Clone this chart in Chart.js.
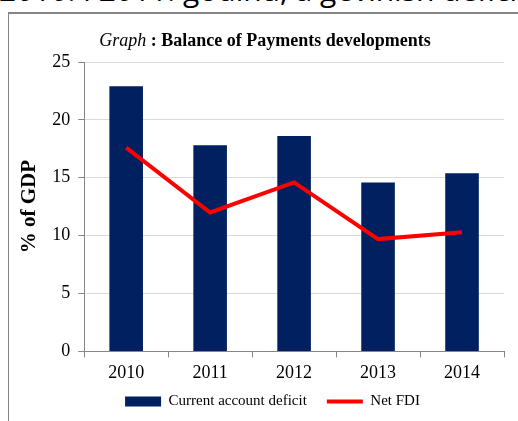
<!DOCTYPE html>
<html>
<head>
<meta charset="utf-8">
<script src="https://cdn.jsdelivr.net/npm/chart.js@4"></script>
<style>
  html, body { margin: 0; padding: 0; background: #fff; }
  body { width: 518px; height: 421px; position: relative; overflow: hidden; }
  #topText {
    position: absolute; left: -1px; top: -31px; white-space: nowrap;
    font-family: "Open Sans", sans-serif; font-size: 30px; color: #000;
  }
  #frame {
    position: absolute; left: 8px; top: 12px; width: 530px; height: 430px;
    border-top: 2px solid #868686; border-left: 1px solid #868686;
  }
  #wrap {
    position: absolute; left: 9px; top: 14px; width: 509px; height: 393px; overflow: hidden;
  }
  #wrap canvas { position: absolute; left: 0; top: -1px; }
</style>
</head>
<body>
<div id="topText">2010. i 2011. godinu, a gevinish deficit</div>
<div id="frame"></div>
<div id="wrap"><canvas id="bopChart" width="509" height="406"></canvas></div>
<script>
const years = ['2010', '2011', '2012', '2013', '2014'];
const currentAccountDeficit = [22.9, 17.8, 18.6, 14.6, 15.4];
const netFDI = [17.6, 12.0, 14.6, 9.7, 10.3];
const yTicks = [0, 5, 10, 15, 20, 25];

const serif = '"Liberation Serif", "Times New Roman", serif';

// title has italic "Graph" + bold rest, so draw it by hand
const titlePlugin = {
  id: 'mixedTitle',
  afterLayout(chart) {
    // nudge legend row a bit right like the original
    chart.legend.left += 13;
    chart.legend.right += 13;
  },
  afterDraw(chart) {
    const ctx = chart.ctx;
    const a = 'Graph';
    const b = ' : Balance of Payments developments';
    ctx.save();
    ctx.fillStyle = '#000';
    ctx.textBaseline = 'alphabetic';
    ctx.font = 'italic 18px ' + serif;
    const wa = ctx.measureText(a).width;
    ctx.font = 'bold 18px ' + serif;
    const wb = ctx.measureText(b).width;
    const x0 = 256 - (wa + wb) / 2;
    ctx.font = 'italic 18px ' + serif;
    ctx.fillText(a, x0, 33);
    ctx.font = 'bold 18px ' + serif;
    ctx.fillText(b, x0 + wa, 33);
    ctx.restore();
  }
};

const ctx = document.getElementById('bopChart').getContext('2d');
const chart = new Chart(ctx, {
  type: 'bar',
  data: {
    labels: years,
    datasets: [
      {
        type: 'bar',
        label: 'Current account deficit    ',
        data: currentAccountDeficit,
        backgroundColor: '#002060',
        barPercentage: 0.4,
        categoryPercentage: 1,
        order: 2
      },
      {
        type: 'line',
        label: 'Net FDI',
        data: netFDI,
        borderColor: '#ff0000',
        backgroundColor: '#ff0000',
        borderWidth: 4,
        pointRadius: 0,
        tension: 0,
        order: 1
      }
    ]
  },
  options: {
    responsive: false,
    animation: false,
    layout: { padding: { top: 49, left: 6, right: 14, bottom: 0 } },
    plugins: {
      tooltip: { enabled: false },
      title: { display: false },
      legend: {
        position: 'bottom',
        labels: {
          color: '#000',
          font: { family: serif, size: 15 },
          usePointStyle: true,
          pointStyleWidth: 36,
          boxHeight: 10,
          padding: 5,
          sort: (a, b) => a.datasetIndex - b.datasetIndex,
          generateLabels(c) {
            const items = Chart.defaults.plugins.legend.labels.generateLabels(c);
            items.forEach(it => {
              if (it.datasetIndex === 0) {
                it.pointStyle = 'rect';
                it.lineWidth = 0;
              } else {
                it.pointStyle = 'line';
                it.strokeStyle = '#ff0000';
                it.lineWidth = 4;
              }
            });
            return items;
          }
        }
      }
    },
    scales: {
      x: {
        grid: { display: true, drawOnChartArea: false, color: '#868686', tickLength: 6 },
        border: { color: '#868686' },
        ticks: { color: '#000', font: { family: serif, size: 18 }, padding: 5 }
      },
      y: {
        min: 0,
        max: 25,
        afterBuildTicks(axis) {
          axis.ticks = yTicks.map(v => ({ value: v }));
        },
        grid: { color: '#d9d9d9', tickLength: 6, tickColor: '#868686' },
        border: { color: '#868686' },
        ticks: { color: '#000', font: { family: serif, size: 18 }, padding: 8 },
        title: {
          display: true,
          text: '% of GDP',
          color: '#000',
          font: { family: serif, size: 21, weight: 'bold' },
          padding: { top: 2, bottom: 2 }
        }
      }
    }
  },
  plugins: [titlePlugin]
});
</script>
</body>
</html>
